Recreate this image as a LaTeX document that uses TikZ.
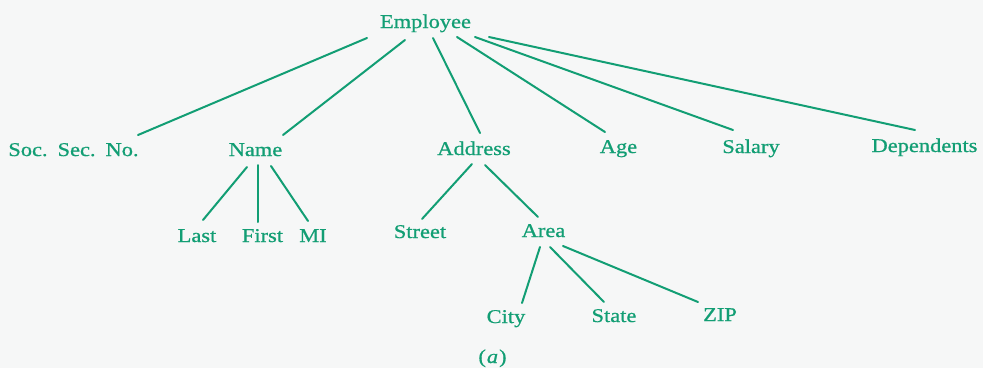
\documentclass[tikz,border=0pt]{standalone}
\usepackage{fontspec}
\setmainfont{Liberation Serif}[FakeStretch=1.15,FakeBold=0.8]
\definecolor{treeg}{RGB}{18,158,116}
\definecolor{paper}{RGB}{246,247,247}
\begin{document}
\begin{tikzpicture}[x=1pt,y=-1pt,
  lbl/.style={text=treeg, font=\fontsize{19.5}{23}\selectfont, inner sep=0pt, anchor=base},
  edge/.style={draw=treeg, line width=2pt, line cap=round}]
\fill[paper] (0,0) rectangle (983,368);
\useasboundingbox (0,0) rectangle (983,368);
% nodes
\node[lbl] (emp) at (425.5,28) {Employee};
\node[lbl] (ssn) at (73.5,156) {Soc.\hspace{10pt}Sec.\hspace{10pt}No.};
\node[lbl] (name) at (255.5,156) {Name};
\node[lbl] (addr) at (474,155) {Address};
\node[lbl] (age) at (618.5,153) {Age};
\node[lbl] (sal) at (751,153) {Salary};
\node[lbl] (dep) at (924.5,152) {Dependents};
\node[lbl] (last) at (197,242) {Last};
\node[lbl] (first) at (262.5,242) {First};
\node[lbl] (mi) at (313,242) {MI};
\node[lbl] (street) at (420,238) {Street};
\node[lbl] (area) at (543.5,237) {Area};
\node[lbl] (city) at (506,323) {City};
\node[lbl] (state) at (614,322) {State};
\node[lbl] (zip) at (720,321) {ZIP};
\node[lbl] (cap) at (492.5,363) {(\kern1pt\textit{a}\kern1pt)};
% edges
\draw[edge] ([shift={(-58.5,10)}]emp.base) -- ([shift={(64.5,-21)}]ssn.base);
\draw[edge] ([shift={(-20.5,12)}]emp.base) -- ([shift={(27.5,-21)}]name.base);
\draw[edge] ([shift={(7.5,10)}]emp.base) -- ([shift={(6,-22)}]addr.base);
\draw[edge] ([shift={(31.5,9)}]emp.base) -- ([shift={(-13.5,-21)}]age.base);
\draw[edge] ([shift={(49.5,9)}]emp.base) -- ([shift={(-18,-23)}]sal.base);
\draw[edge] ([shift={(63.5,9)}]emp.base) -- ([shift={(-9.5,-22)}]dep.base);
\draw[edge] ([shift={(-8.5,11)}]name.base) -- ([shift={(6,-22)}]last.base);
\draw[edge] ([shift={(2.5,9)}]name.base) -- ([shift={(-4.5,-20)}]first.base);
\draw[edge] ([shift={(15.5,10)}]name.base) -- ([shift={(-5,-21)}]mi.base);
\draw[edge] ([shift={(-2,9)}]addr.base) -- ([shift={(2,-19)}]street.base);
\draw[edge] ([shift={(11,10)}]addr.base) -- ([shift={(-5.5,-20)}]area.base);
\draw[edge] ([shift={(-3.5,10)}]area.base) -- ([shift={(16,-20)}]city.base);
\draw[edge] ([shift={(6.5,10)}]area.base) -- ([shift={(-10,-20)}]state.base);
\draw[edge] ([shift={(19.5,9)}]area.base) -- ([shift={(-22,-19)}]zip.base);
\end{tikzpicture}
\end{document}
